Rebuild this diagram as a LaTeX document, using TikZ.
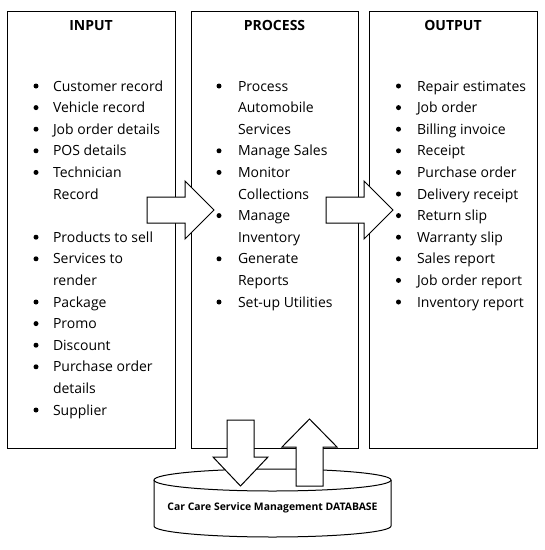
\documentclass[tikz,border=0pt]{standalone}
\usepackage{fontspec}
\setmainfont{Open Sans}
\begin{document}
\begin{tikzpicture}
  [x=1pt, y=-1pt, line width=1pt,
   item/.style={anchor=base west, inner sep=0pt, font=\fontsize{14}{16}\selectfont},
   head/.style={anchor=base, inner sep=0pt, font=\fontsize{14}{16}\selectfont\bfseries},
   dot/.style={circle, fill=black, inner sep=0pt, minimum size=5pt},
   blk/.style={draw=black, fill=white, line join=miter}]
  \useasboundingbox (0,0) rectangle (545,550);
  % the three panels
  \foreach \l/\r in {7/175,191/358,369/537}{
    \draw (\l,11) rectangle (\r,448); }
  \foreach \name/\x/\txt in {tin/91/INPUT,tpr/274.5/PROCESS,tout/453/OUTPUT}{
    \node[head] (\name) at (\x,30) {\txt}; }
  % input list
  \foreach \n/\txt in {0/Customer record,1/Vehicle record,2/Job order details,
                  3/POS details,4/Technician,5/Record,7/Products to sell,
                  8/Services to,9/render,10/Package,11/Promo,12/Discount,
                  13/Purchase order,14/details,15/Supplier}{
    \node[item] (in\n) at (52.5,91+21.6*\n) {\txt}; }
  \foreach \n in {0,1,2,3,4,7,8,10,11,12,13,15}{
    \node[dot] (inb\n) at (36,86+21.6*\n) {}; }
  % process list
  \foreach \n/\txt in {0/Process,1/Automobile,2/Services,3/Manage Sales,
                  4/Monitor,5/Collections,6/Manage,7/Inventory,8/Generate,
                  9/Reports,10/Set-up Utilities}{
    \node[item] (pr\n) at (237.5,91+21.6*\n) {\txt}; }
  \foreach \n in {0,3,4,6,8,10}{
    \node[dot] (prb\n) at (219,86+21.6*\n) {}; }
  % output list
  \foreach \n/\txt in {0/Repair estimates,1/Job order,2/Billing invoice,
                  3/Receipt,4/Purchase order,5/Delivery receipt,6/Return slip,
                  7/Warranty slip,8/Sales report,9/Job order report,
                  10/Inventory report}{
    \node[item] (out\n) at (416.5,91+21.6*\n) {\txt};
    \node[dot] (outb\n) at (398.5,86+21.6*\n) {}; }
  % database
  \draw (154,480) -- (154,526)
    arc[start angle=180, end angle=0, x radius=118.5, y radius=11] -- (391,480);
  \draw (272.5,480) ellipse [x radius=118.5, y radius=11];
  \node[anchor=base, inner sep=0pt, font=\fontsize{10.4}{12}\selectfont\bfseries]
    (db) at (272.5,510) {Car Care Service Management DATABASE};
  % block arrows
  \foreach \x in {147,326}{
    \draw[blk] (\x,197) -- (\x+38,197) -- (\x+38,181) -- (\x+67,210)
      -- (\x+38,239) -- (\x+38,223) -- (\x,223) -- cycle; }
  \draw[blk] (227,420) -- (254,420) -- (254,457) -- (268,457) -- (240.5,486)
    -- (213,457) -- (227,457) -- cycle;
  \draw[blk] (296,486) -- (296,447) -- (282,447) -- (309.5,419) -- (337,447)
    -- (323,447) -- (323,486) -- cycle;
\end{tikzpicture}
\end{document}
